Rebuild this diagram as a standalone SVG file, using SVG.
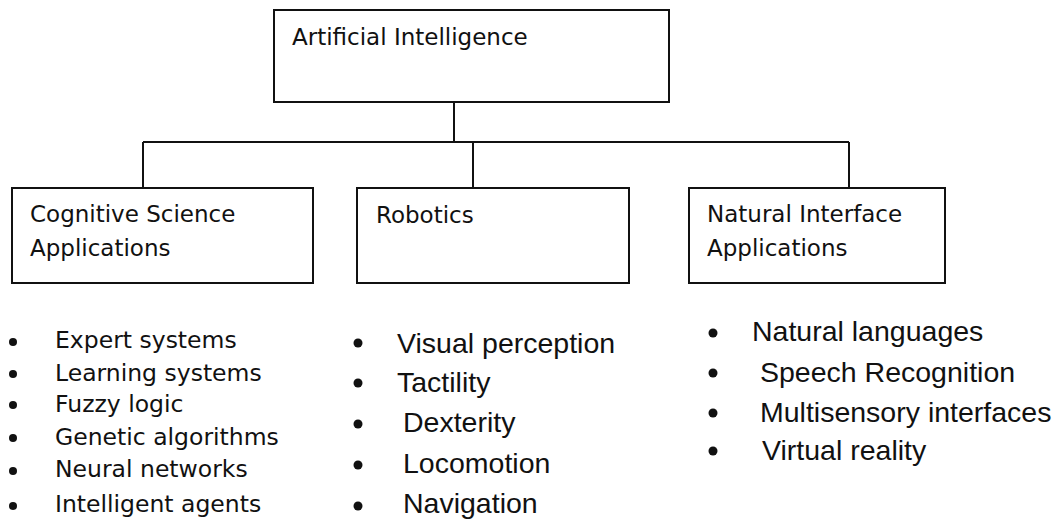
<svg xmlns="http://www.w3.org/2000/svg" width="1061" height="521" viewBox="0 0 1061 521">
<style>
.box{fill:#fff;stroke:#111;stroke-width:2}
.lbl{font-family:"DejaVu Sans",Verdana,sans-serif;font-size:23px;fill:#111}
.li{font-family:"DejaVu Sans",Verdana,sans-serif;font-size:23.5px;fill:#111}
.la{font-family:"Liberation Sans",Arial,sans-serif;font-size:28.5px;fill:#111}
.con{fill:none;stroke:#111;stroke-width:2}
.dot{fill:#111}
</style>
<rect width="1061" height="521" fill="#fff"/>
<g id="connectors">
<path class="con" d="M454 102V142M143 142H849M143 142V188M473 142V188M849 142V188"/>
</g>
<g id="ai">
<rect class="box" x="274" y="10" width="395" height="92"/>
<text class="lbl" x="292" y="45">Artificial Intelligence</text>
</g>
<g id="cognitive">
<rect class="box" x="12" y="188" width="301" height="95"/>
<text class="lbl" x="30" y="222">Cognitive Science</text>
<text class="lbl" x="30" y="256">Applications</text>
</g>
<g id="robotics">
<rect class="box" x="357" y="188" width="272" height="95"/>
<text class="lbl" x="376" y="223">Robotics</text>
</g>
<g id="natural">
<rect class="box" x="689" y="188" width="256" height="95"/>
<text class="lbl" x="707" y="222">Natural Interface</text>
<text class="lbl" x="707" y="256">Applications</text>
</g>
<g id="cognitive-list">
<circle class="dot" cx="13" cy="342" r="4"/><text class="li" x="55" y="348">Expert systems</text>
<circle class="dot" cx="13" cy="374" r="4"/><text class="li" x="55" y="381">Learning systems</text>
<circle class="dot" cx="13" cy="405" r="4"/><text class="li" x="55" y="412">Fuzzy logic</text>
<circle class="dot" cx="13" cy="438" r="4"/><text class="li" x="55" y="445">Genetic algorithms</text>
<circle class="dot" cx="13" cy="471" r="4"/><text class="li" x="55" y="477">Neural networks</text>
<circle class="dot" cx="13" cy="506" r="4"/><text class="li" x="55" y="512">Intelligent agents</text>
</g>
<g id="robotics-list">
<circle class="dot" cx="358" cy="343" r="4.5"/><text class="la" x="397" y="353">Visual perception</text>
<circle class="dot" cx="358" cy="383" r="4.5"/><text class="la" x="397" y="392">Tactility</text>
<circle class="dot" cx="358" cy="424" r="4.5"/><text class="la" x="403" y="432">Dexterity</text>
<circle class="dot" cx="358" cy="465" r="4.5"/><text class="la" x="403" y="473">Locomotion</text>
<circle class="dot" cx="358" cy="506" r="4.5"/><text class="la" x="403" y="513">Navigation</text>
</g>
<g id="natural-list">
<circle class="dot" cx="713" cy="333" r="4.5"/><text class="la" x="752" y="341">Natural languages</text>
<circle class="dot" cx="713" cy="373" r="4.5"/><text class="la" x="760" y="382">Speech Recognition</text>
<circle class="dot" cx="713" cy="413" r="4.5"/><text class="la" x="760" y="422">Multisensory interfaces</text>
<circle class="dot" cx="713" cy="451" r="4.5"/><text class="la" x="762" y="460">Virtual reality</text>
</g>
</svg>
